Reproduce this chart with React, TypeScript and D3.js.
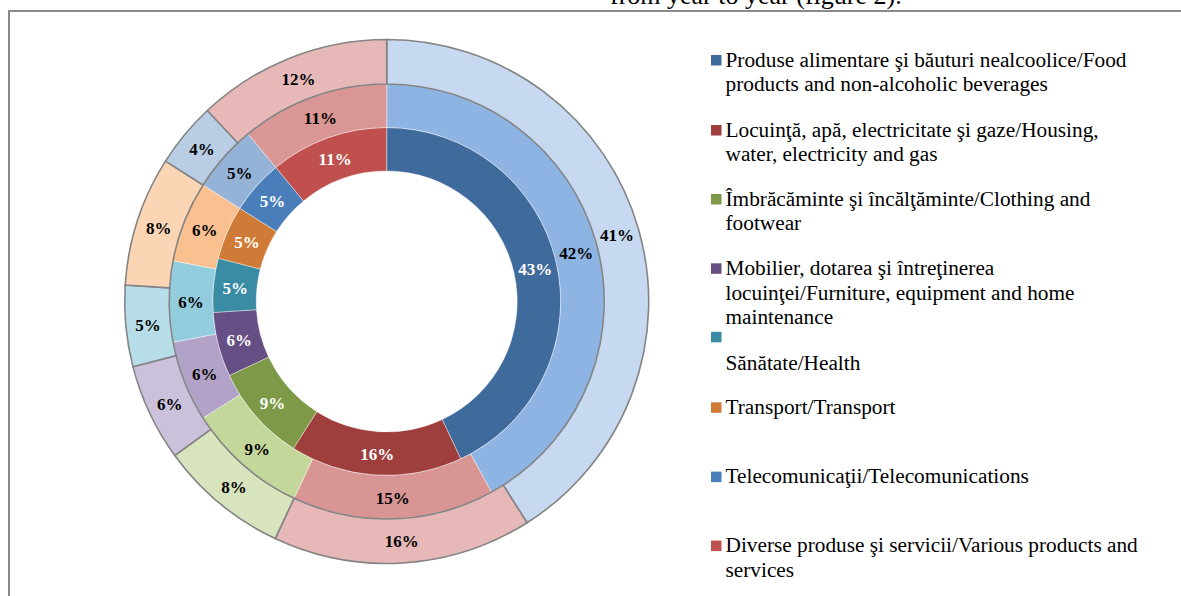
import React from "react";
import * as d3 from "d3";

const categories = [
  "Food",
  "Housing",
  "Clothing",
  "Furniture",
  "Health",
  "Transport",
  "Telecom",
  "Various",
];

// ring values (inner, middle, outer), percent
const innerValues = [43, 16, 9, 6, 5, 5, 5, 11];
const middleValues = [42, 15, 9, 6, 6, 6, 5, 11];
const outerValues = [41, 16, 8, 6, 5, 8, 4, 12];

const innerColors = ["#3F6A9C", "#9E3F3D", "#7E9A48", "#664F84", "#3A8CA4", "#CF7B37", "#4A7EBB", "#C0504D"];
const middleColors = ["#8EB4E3", "#D99594", "#C4D79B", "#B2A2C7", "#93CDDD", "#FAC090", "#95B3D7", "#D99694"];
const outerColors = ["#C6D9F1", "#E6B9B8", "#D8E4BD", "#CCC1DA", "#B7DEE8", "#FCD5B5", "#B9CDE5", "#E6B9B8"];

const legendLines: string[][] = [
  ["Produse alimentare şi băuturi nealcoolice/Food", "products and non-alcoholic beverages"],
  ["Locuinţă, apă, electricitate şi gaze/Housing,", "water, electricity and gas"],
  ["Îmbrăcăminte şi încălţăminte/Clothing and", "footwear"],
  ["Mobilier, dotarea şi întreţinerea", "locuinţei/Furniture, equipment and home", "maintenance"],
  ["", "Sănătate/Health"],
  ["Transport/Transport"],
  ["Telecomunicaţii/Telecomunications"],
  ["Diverse produse şi servicii/Various products and", "services"],
];
// first-line baselines for each legend entry
const legendBaselines = [66.7, 136.7, 205.7, 275, 343.5, 414, 483.3, 552.3];

const W = 1181;
const H = 596;
const cx = 386.7;
const cy = 301.5;
const rHole = 130.5;
const rInner = 174;
const rMiddle = 217.5;
const rOuter = 262;

const FONT = "'Liberation Serif', 'Times New Roman', serif";

function Ring({
  values,
  colors,
  r0,
  r1,
  stroke,
  strokeWidth,
  labelColor,
}: {
  values: number[];
  colors: string[];
  r0: number;
  r1: number;
  stroke: string;
  strokeWidth: number;
  labelColor: string;
}) {
  const pie = d3.pie<number>().value((d) => d).sort(null);
  const arcs = pie(values);
  const arcGen = d3.arc<d3.PieArcDatum<number>>().innerRadius(r0).outerRadius(r1);
  return (
    <g>
      {arcs.map((a, i) => (
        <path key={"p" + i} d={arcGen(a) || ""} fill={colors[i]} stroke={stroke} strokeWidth={strokeWidth} />
      ))}
      {arcs.map((a, i) => {
        const [x, y] = arcGen.centroid(a);
        return (
          <text
            key={"t" + i}
            x={x}
            y={y}
            dy="0.38em"
            textAnchor="middle"
            fontFamily={FONT}
            fontWeight="bold"
            fontSize={17}
            fill={labelColor}
          >
            {a.data + "%"}
          </text>
        );
      })}
    </g>
  );
}

export default function App() {
  return (
    <svg
      width={W}
      height={H}
      style={{ position: "absolute", left: 0, top: 0, background: "#fff" }}
    >
      <rect x={0} y={0} width={W} height={H} fill="#fff" />
      <text x={610} y={4} fontFamily={FONT} fontSize={26} fill="#000">
        from year to year (figure 2).
      </text>
      <path d={`M9,${H} V11 H${W}`} fill="none" stroke="#8A8A8A" strokeWidth={2} />
      <g transform={`translate(${cx},${cy})`}>
        <Ring values={innerValues} colors={innerColors} r0={rHole} r1={rInner} stroke="#fff" strokeWidth={0.4} labelColor="#fff" />
        <Ring values={middleValues} colors={middleColors} r0={rInner} r1={rMiddle} stroke="#fff" strokeWidth={0.4} labelColor="#000" />
        <Ring values={outerValues} colors={outerColors} r0={rMiddle} r1={rOuter} stroke="#848484" strokeWidth={1.6} labelColor="#000" />
      </g>
      <g>
        {legendLines.map((lines, i) => {
          const b = legendBaselines[i];
          return (
            <g key={categories[i]}>
              <rect x={711} y={b - 11.7} width={10.5} height={10.5} fill={innerColors[i]} />
              {lines.map((ln, j) => (
                <text
                  key={j}
                  x={725.5}
                  y={b + j * 24.5 + (i === 4 && j === 1 ? 2 : 0)}
                  fontFamily={FONT}
                  fontSize={21.3}
                  fill="#000"
                >
                  {ln}
                </text>
              ))}
            </g>
          );
        })}
      </g>
    </svg>
  );
}
